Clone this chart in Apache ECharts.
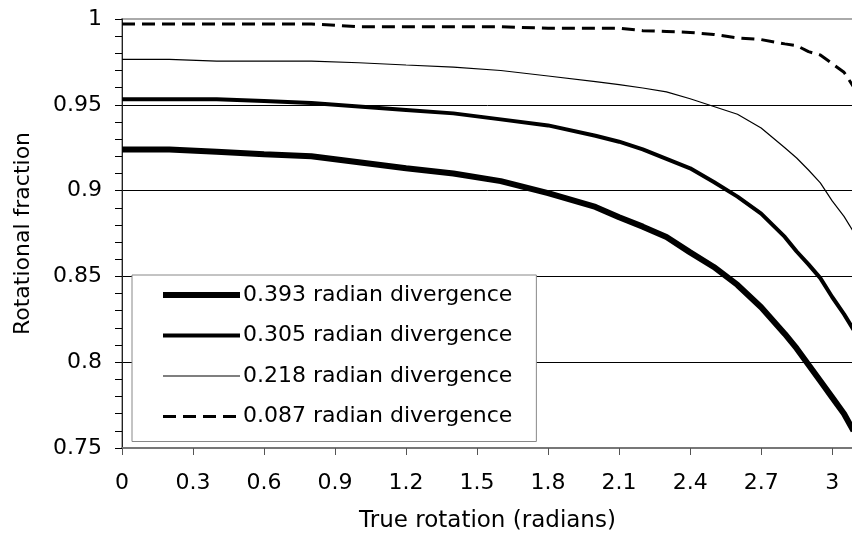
<!DOCTYPE html>
<html>
<head>
<meta charset="utf-8">
<script src="https://cdn.jsdelivr.net/npm/echarts@6/dist/echarts.min.js"></script>
<style>
  html, body { margin: 0; padding: 0; background: #fff; }
  #chart { width: 852px; height: 546px; }
</style>
</head>
<body>
<div id="chart"></div>
<script>
// true rotation (radians), shared by all four curves
const rotation = [0, 0.2, 0.4, 0.6, 0.8, 1.0, 1.2, 1.4, 1.6, 1.8, 2.0, 2.1, 2.2, 2.3, 2.4, 2.5,
  2.6, 2.7, 2.8, 2.85, 2.9, 2.95, 3.0, 3.05, 3.09];

// rotational fraction
const div393 = [0.924, 0.924, 0.9226, 0.9212, 0.92, 0.9165, 0.913, 0.910, 0.9055, 0.8985, 0.8905,
  0.8845, 0.879, 0.873, 0.864, 0.8555, 0.845, 0.832, 0.8165, 0.808, 0.7985, 0.789, 0.7795, 0.770, 0.760];
const div305 = [0.9533, 0.9533, 0.9533, 0.9522, 0.951, 0.949, 0.947, 0.945, 0.9415, 0.938, 0.932,
  0.9285, 0.924, 0.9185, 0.913, 0.905, 0.8965, 0.8866, 0.873, 0.8645, 0.857, 0.849, 0.838, 0.828, 0.819];
const div218 = [0.9765, 0.9765, 0.9755, 0.9755, 0.9755, 0.9745, 0.9732, 0.972, 0.970, 0.9668, 0.9635,
  0.9618, 0.9598, 0.9575, 0.9535, 0.949, 0.9445, 0.9365, 0.925, 0.919, 0.912, 0.9045, 0.894, 0.885, 0.876];
const div087 = [0.9971, 0.9971, 0.9971, 0.9971, 0.9971, 0.9955, 0.9955, 0.9955, 0.9955, 0.9946, 0.9946,
  0.9946, 0.9932, 0.9927, 0.9922, 0.991, 0.989, 0.988, 0.9855, 0.9845, 0.981, 0.979, 0.974, 0.969, 0.9605];

const seriesNames = ['0.393 radian divergence', '0.305 radian divergence',
  '0.218 radian divergence', '0.087 radian divergence'];

const xTicks = [0, 0.3, 0.6, 0.9, 1.2, 1.5, 1.8, 2.1, 2.4, 2.7, 3];

const font = 'DejaVu Sans';

// line look of each curve (also used for its legend sample)
const styles = [
  { color: '#000', width: 6 },
  { color: '#000', width: 4 },
  { color: '#000', width: 1.2 },
  { color: '#000', width: 3, type: [13, 7] }
];

function pairs(ys) {
  return rotation.map((x, i) => [x, ys[i]]);
}

const chart = echarts.init(document.getElementById('chart'), null, { renderer: 'canvas' });

chart.setOption({
  animation: false,
  backgroundColor: '#fff',
  textStyle: { fontFamily: font, color: '#000' },
  grid: {
    left: 122, right: -1, top: 19, bottom: 98,
    outerBoundsMode: 'none',
    show: true, borderColor: '#aaa', borderWidth: 2, backgroundColor: 'transparent'
  },
  legend: {
    orient: 'vertical',
    left: 132, top: 275,
    padding: [9, 24, 14, 28],
    backgroundColor: '#fff',
    borderColor: '#888', borderWidth: 1, borderRadius: 0,
    itemWidth: 77, itemHeight: 22, itemGap: 18.5,
    textStyle: { fontFamily: font, fontSize: 22, color: '#000', padding: [0, 0, 0, -2] },
    data: seriesNames.map((n, i) => ({
      name: n,
      itemStyle: { opacity: 0 },
      lineStyle: Object.assign({}, styles[i])
    }))
  },
  xAxis: {
    type: 'value',
    min: 0, max: 3.088,
    name: 'True rotation (radians)',
    nameLocation: 'middle', nameGap: 62,
    nameTextStyle: { fontFamily: font, fontSize: 23, color: '#000' },
    axisLine: { lineStyle: { color: '#777', width: 2 } },
    axisTick: { show: true, inside: false, length: 7, customValues: xTicks,
      lineStyle: { color: '#555', width: 1 } },
    axisLabel: { customValues: xTicks, margin: 24, fontFamily: font, fontSize: 22, color: '#000',
      formatter: v => String(+v.toFixed(1)) },
    splitLine: { show: false }
  },
  yAxis: {
    type: 'value',
    min: 0.75, max: 1, interval: 0.05,
    name: 'Rotational fraction',
    nameLocation: 'middle', nameGap: 88,
    nameTextStyle: { fontFamily: font, fontSize: 22, color: '#000' },
    axisLine: { show: true, lineStyle: { color: '#222', width: 1 } },
    axisTick: { show: true, inside: false, length: 7, lineStyle: { color: '#000', width: 1 } },
    minorTick: { show: true, splitNumber: 5, length: 7, lineStyle: { color: '#000', width: 1 } },
    axisLabel: { margin: 20, fontFamily: font, fontSize: 22, color: '#000',
      formatter: v => String(+v.toFixed(2)) },
    splitLine: { show: true, showMaxLine: false, lineStyle: { color: '#000', width: 1 } }
  },
  series: [div393, div305, div218, div087].map((ys, i) => ({
    name: seriesNames[i],
    type: 'line',
    symbol: 'none',
    data: pairs(ys),
    lineStyle: styles[i],
    itemStyle: { color: '#000' }
  }))
});
</script>
</body>
</html>
